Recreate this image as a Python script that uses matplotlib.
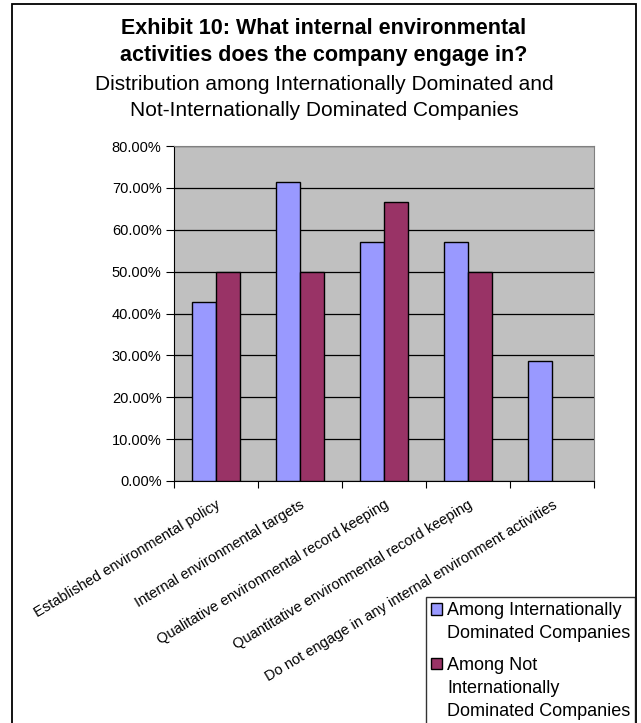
import numpy as np
import matplotlib
matplotlib.use("Agg")
import matplotlib.pyplot as plt
from matplotlib.patches import Rectangle
from matplotlib.ticker import FuncFormatter
from matplotlib.legend_handler import HandlerPatch

plt.rcParams['font.family'] = ['Liberation Sans', 'DejaVu Sans']

categories = [
    "Established environmental policy",
    "Internal environmental targets",
    "Qualitative environmental record keeping",
    "Quantitative environmental record keeping",
    "Do not engage in any internal environment activities",
]
intl = [42.86, 71.43, 57.14, 57.14, 28.57]
not_intl = [50.00, 50.00, 66.67, 50.00, 0.0]
series_names = [
    "Among Internationally\nDominated Companies",
    "Among Not\nInternationally\nDominated Companies",
]
colors = ["#9999FF", "#993366"]


class TopSquare(HandlerPatch):
    # legend square lined up with the first line of a multi-line label
    def __init__(self, shift, **kw):
        super().__init__(**kw)
        self.shift = shift

    def create_artists(self, legend, orig_handle, xdescent, ydescent, width, height,
                       fontsize, trans):
        p = Rectangle((-xdescent, -ydescent + self.shift), width, height,
                      facecolor=orig_handle.patches[0].get_facecolor(),
                      edgecolor="black", linewidth=1.0, transform=trans)
        return [p]


W, H = 641, 723
fig = plt.figure(figsize=(W / 100, H / 100), dpi=100)
# plot area in pixels: x 174..594, y 146..481
ax = fig.add_axes([174 / W, 1 - 481 / H, 420 / W, 335 / H])

x = np.arange(len(categories))
w = 0.285
b1 = ax.bar(x - w / 2, intl, w, color=colors[0], edgecolor="black", linewidth=1, zorder=3,
            label=series_names[0])
b2 = ax.bar(x + w / 2, not_intl, w, color=colors[1], edgecolor="black", linewidth=1, zorder=3,
            label=series_names[1])
b2[4].set_visible(False)

ax.set_facecolor("#C0C0C0")
ax.set_xlim(-0.5, len(categories) - 0.5)
ax.set_ylim(0, 80)
ax.set_yticks(np.arange(0, 81, 10))
ax.yaxis.set_major_formatter(FuncFormatter(lambda v, p: f"{v:.2f}%"))
ax.yaxis.grid(True, color="black", linewidth=0.9, zorder=0)
ax.set_xticks(np.arange(-0.5, len(categories), 1.0))
ax.set_xticklabels([])
ax.set_xticks(x, minor=True)
ax.set_xticklabels(categories, minor=True, rotation=31, ha="right", va="top",
                   rotation_mode="anchor", fontsize=10.5)
ax.tick_params(axis="x", which="minor", length=0, pad=12)
ax.tick_params(axis="x", which="major", length=5, direction="out")
ax.tick_params(axis="y", length=6, labelsize=10.5, pad=3)
for s in ["top", "right"]:
    ax.spines[s].set_color("#808080")
ax.spines["left"].set_color("black")
ax.spines["bottom"].set_color("black")

cx = 324 / W
fig.text(cx, 1 - 28 / H, "Exhibit 10: What internal environmental", ha="center", va="center",
         fontsize=15.5, fontweight="bold")
fig.text(cx, 1 - 56 / H, "activities does the company engage in?", ha="center", va="center",
         fontsize=15.5, fontweight="bold")
fig.text(cx, 1 - 84 / H, "Distribution among Internationally Dominated and", ha="center",
         va="center", fontsize=15)
fig.text(cx, 1 - 111 / H, "Not-Internationally Dominated Companies", ha="center", va="center",
         fontsize=15)

leg = fig.legend(handles=[b1, b2], labels=series_names,
                 handler_map={b1: TopSquare(9), b2: TopSquare(18)},
                 loc="upper right", bbox_to_anchor=(635 / W, 1 - 597 / H), fontsize=13,
                 frameon=True, fancybox=False, edgecolor="black", handlelength=0.6,
                 handleheight=0.6, handletextpad=0.3, labelspacing=0.85, borderpad=0.25,
                 borderaxespad=0)
leg.get_frame().set_linewidth(1.0)
for t in leg.get_texts():
    t.set_linespacing(1.47)

fig.patches.append(Rectangle((12 / W, -0.05), 624 / W, 1.05 - 4 / H, transform=fig.transFigure,
                             fill=False, edgecolor="black", linewidth=1.3))

fig.savefig("out.png", dpi=100, facecolor="white")
